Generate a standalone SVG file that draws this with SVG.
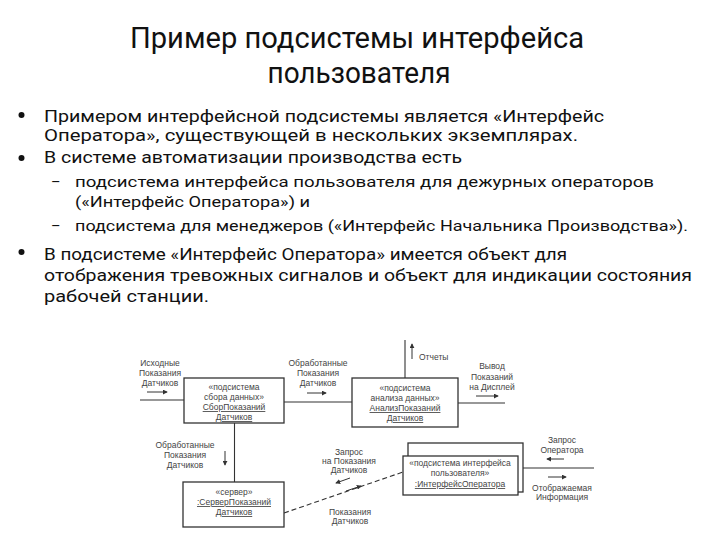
<svg xmlns="http://www.w3.org/2000/svg" width="720" height="540" viewBox="0 0 720 540">
<defs>
<style>
.t{font-family:Roboto,"Liberation Sans",sans-serif;fill:#111}
.title{font-size:29px;text-anchor:middle}
.b{font-size:16px}
.s{font-size:14.5px}
.d{font-family:"Liberation Sans","DejaVu Sans",sans-serif;font-size:8.5px;fill:#444;text-anchor:middle}
.u{text-decoration:underline}
.box{fill:#fff;stroke:#333;stroke-width:1.3}
.ln{stroke:#333;stroke-width:1.1;fill:none}
.ar{stroke:#333;stroke-width:1;fill:none;marker-end:url(#ah)}
</style>
<marker id="ah" viewBox="0 0 6 6" refX="5" refY="3" markerWidth="5" markerHeight="5" orient="auto" markerUnits="userSpaceOnUse">
<path d="M0,0 L6,3 L0,6 z" fill="#333"/>
</marker>
</defs>
<rect width="720" height="540" fill="#fff"/>
<g id="title" class="t title">
<text x="357" y="48" textLength="454" lengthAdjust="spacingAndGlyphs">Пример подсистемы интерфейса</text>
<text x="359" y="83" textLength="183" lengthAdjust="spacingAndGlyphs">пользователя</text>
</g>
<g id="bullets" class="t">
<circle cx="21.5" cy="115" r="3" fill="#111"/>
<circle cx="21.5" cy="158" r="3" fill="#111"/>
<circle cx="21.5" cy="252" r="3" fill="#111"/>
<text class="b" x="44" y="122" textLength="560" lengthAdjust="spacingAndGlyphs">Примером интерфейсной подсистемы является «Интерфейс</text>
<text class="b" x="44" y="141" textLength="534" lengthAdjust="spacingAndGlyphs">Оператора», существующей в нескольких экземплярах.</text>
<text class="b" x="44" y="163" textLength="418" lengthAdjust="spacingAndGlyphs">В системе автоматизации производства есть</text>
<text class="s" x="51" y="187">–</text>
<text class="s" x="75" y="187" textLength="579" lengthAdjust="spacingAndGlyphs">подсистема интерфейса пользователя для дежурных операторов</text>
<text class="s" x="75" y="207" textLength="235" lengthAdjust="spacingAndGlyphs">(«Интерфейс Оператора») и</text>
<text class="s" x="51" y="231">–</text>
<text class="s" x="75" y="231" textLength="613" lengthAdjust="spacingAndGlyphs">подсистема для менеджеров («Интерфейс Начальника Производства»).</text>
<text class="b" x="44" y="260" textLength="523" lengthAdjust="spacingAndGlyphs">В подсистеме «Интерфейс Оператора» имеется объект для</text>
<text class="b" x="44" y="281" textLength="648" lengthAdjust="spacingAndGlyphs">отображения тревожных сигналов и объект для индикации состояния</text>
<text class="b" x="44" y="302" textLength="165" lengthAdjust="spacingAndGlyphs">рабочей станции.</text>
</g>
<g id="connectors">
<line class="ln" x1="140" y1="400" x2="184" y2="400"/>
<line class="ln" x1="284" y1="402" x2="352" y2="402"/>
<line class="ln" x1="405" y1="340" x2="405" y2="378"/>
<line class="ln" x1="458" y1="403" x2="505" y2="403"/>
<line class="ln" x1="234.5" y1="423" x2="234.5" y2="482"/>
<line class="ln" x1="284" y1="513" x2="403" y2="472" stroke-dasharray="5,3"/>
<line class="ln" x1="518" y1="468" x2="594" y2="468"/>
<line class="ar" x1="147" y1="392" x2="167" y2="392"/>
<line class="ar" x1="307" y1="393" x2="326" y2="393"/>
<line class="ar" x1="476" y1="396" x2="498" y2="396"/>
<line class="ar" x1="412" y1="359" x2="412" y2="344"/>
<line class="ar" x1="225" y1="451" x2="225" y2="465"/>
<line class="ar" x1="350" y1="478" x2="336" y2="483"/>
<line class="ar" x1="346" y1="491" x2="361" y2="486"/>
<line class="ar" x1="564" y1="459" x2="547" y2="459"/>
<line class="ar" x1="548" y1="477" x2="566" y2="477"/>
</g>
<g id="labels" class="d">
<text x="160" y="366">Исходные</text>
<text x="160" y="376">Показания</text>
<text x="160" y="386">Датчиков</text>
<text x="318" y="366">Обработанные</text>
<text x="318" y="376">Показания</text>
<text x="318" y="386">Датчиков</text>
<text x="419" y="360" style="text-anchor:start">Отчеты</text>
<text x="492" y="369">Вывод</text>
<text x="492" y="380">Показаний</text>
<text x="492" y="390">на Дисплей</text>
<text x="185" y="448">Обработанные</text>
<text x="185" y="458">Показания</text>
<text x="185" y="468">Датчиков</text>
<text x="349" y="455">Запрос</text>
<text x="349" y="464">на Показания</text>
<text x="349" y="473">Датчиков</text>
<text x="350" y="515">Показания</text>
<text x="350" y="524">Датчиков</text>
<text x="562" y="443">Запрос</text>
<text x="562" y="453">Оператора</text>
<text x="562" y="491">Отображаемая</text>
<text x="562" y="500">Информация</text>
</g>
<g id="node-sbor">
<rect class="box" x="184" y="378" width="100" height="45"/>
<text class="d" x="234" y="390">«подсистема</text>
<text class="d" x="234" y="400">сбора данных»</text>
<text class="d u" x="234" y="410">СборПоказаний</text>
<text class="d u" x="234" y="420">Датчиков</text>
</g>
<g id="node-analiz">
<rect class="box" x="352" y="378" width="106" height="49"/>
<text class="d" x="405" y="391">«подсистема</text>
<text class="d" x="405" y="401">анализа данных»</text>
<text class="d u" x="405" y="411">АнализПоказаний</text>
<text class="d u" x="405" y="421">Датчиков</text>
</g>
<g id="node-server">
<rect class="box" x="183" y="482" width="101" height="45"/>
<text class="d" x="234" y="495">«сервер»</text>
<text class="d u" x="234" y="505">:СерверПоказаний</text>
<text class="d u" x="234" y="515">Датчиков</text>
</g>
<g id="node-interface">
<rect class="box" x="408" y="443" width="115" height="49"/>
<rect class="box" x="403" y="456" width="115" height="39"/>
<text class="d" x="460" y="466">«подсистема интерфейса</text>
<text class="d" x="460" y="476">пользователя»</text>
<text class="d u" x="460" y="487">:ИнтерфейсОператора</text>
</g>
</svg>
